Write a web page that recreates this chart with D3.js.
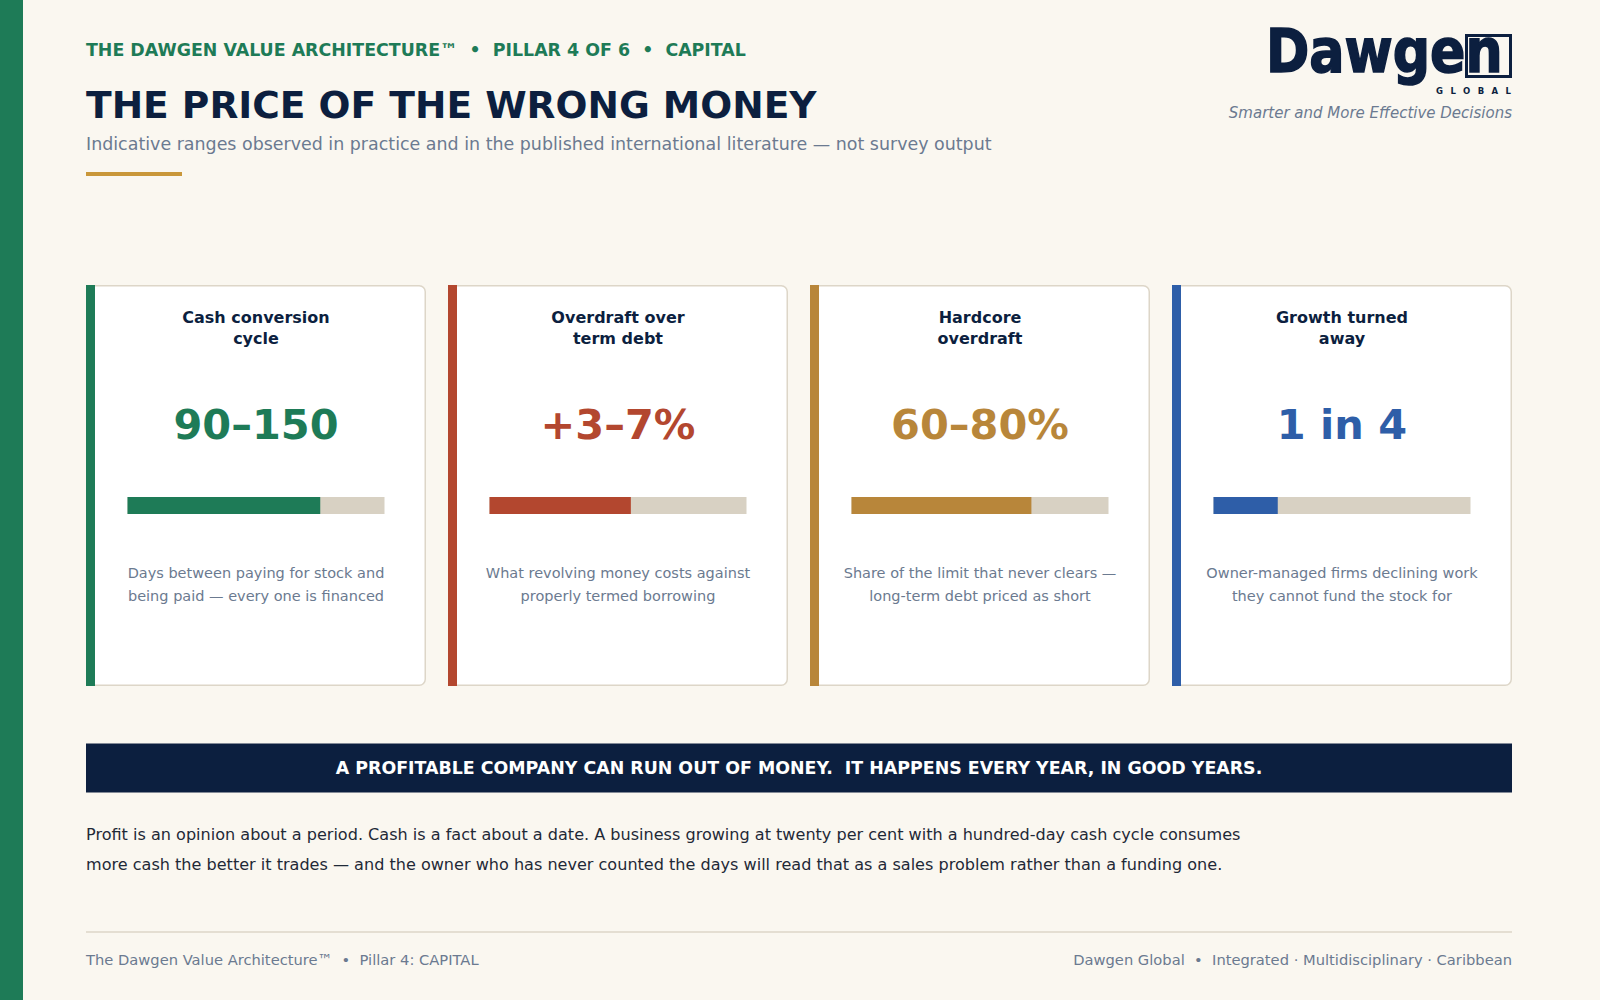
<!DOCTYPE html>
<html>
<head>
<meta charset="utf-8">
<script src="https://cdn.jsdelivr.net/npm/d3@7"></script>
<style>
  html, body { margin: 0; padding: 0; background: #faf7f0; }
  svg text { font-family: "DejaVu Sans", sans-serif; white-space: pre; }
</style>
</head>
<body>
<div id="chart"></div>
<script>
// card data
const cardTitles = [
    ["Cash conversion", "cycle"],
    ["Overdraft over", "term debt"],
    ["Hardcore", "overdraft"],
    ["Growth turned", "away"]
];
const cardFigures = ["90–150", "+3–7%", "60–80%", "1 in 4"];
const cardShares = [0.75, 0.55, 0.70, 0.25];
const cardNotes = [
    ["Days between paying for stock and", "being paid — every one is financed"],
    ["What revolving money costs against", "properly termed borrowing"],
    ["Share of the limit that never clears —", "long-term debt priced as short"],
    ["Owner-managed firms declining work", "they cannot fund the stock for"]
];

// page text
const kicker = "THE DAWGEN VALUE ARCHITECTURE™  •  PILLAR 4 OF 6  •  CAPITAL";
const title = "THE PRICE OF THE WRONG MONEY";
const subtitle = "Indicative ranges observed in practice and in the published international literature — not survey output";
const banner = "A PROFITABLE COMPANY CAN RUN OUT OF MONEY.  IT HAPPENS EVERY YEAR, IN GOOD YEARS.";
const bodyLines = [
    "Profit is an opinion about a period. Cash is a fact about a date. A business growing at twenty per cent with a hundred-day cash cycle consumes",
    "more cash the better it trades — and the owner who has never counted the days will read that as a sales problem rather than a funding one."
];
const footerLeft = "The Dawgen Value Architecture™  •  Pillar 4: CAPITAL";
const footerRight = "Dawgen Global  •  Integrated · Multidisciplinary · Caribbean";

// colours
const accents = ["#1e7b57", "#b3472f", "#b8863a", "#2e5ea8"];
const navy = "#0c1f3f";
const grey = "#6b7a90";
const track = "#d8d1c3";
const rule = "#ddd6c8";

const W = 1600, H = 1000;
const left = 86, right = 1512;

let svg = d3.select("#chart").append("svg")
    .attr("width", W)
    .attr("height", H);

svg.append("rect").attr("width", W).attr("height", H).attr("fill", "#faf7f0");
svg.append("rect").attr("width", 23).attr("height", H).attr("fill", accents[0]);

// header
svg.append("text")
    .attr("x", left).attr("y", 56)
    .attr("fill", accents[0])
    .style("font-size", "17.4px").style("font-weight", "bold")
    .text(kicker);

svg.append("text")
    .attr("x", left).attr("y", 117.5)
    .attr("fill", navy)
    .style("font-size", "37.6px").style("font-weight", "bold")
    .text(title);

svg.append("text")
    .attr("x", left).attr("y", 149.5)
    .attr("fill", grey)
    .style("font-size", "17.45px")
    .text(subtitle);

svg.append("rect")
    .attr("x", left).attr("y", 172)
    .attr("width", 96).attr("height", 4)
    .attr("fill", "#c9973a");

// logo: wordmark with the boxed n
let logo = svg.append("g");
logo.append("rect")
    .attr("x", 1466.5).attr("y", 35.5)
    .attr("width", 44).attr("height", 41)
    .attr("fill", "none").attr("stroke", navy).attr("stroke-width", 3);
logo.append("text")
    .attr("transform", "translate(1266,72) scale(0.87,1)")
    .attr("fill", navy)
    .attr("stroke", navy).attr("stroke-width", 1.6)
    .style("font-size", "60px").style("font-weight", "bold")
    .text("Dawgen");
logo.append("text")
    .attr("x", 1436).attr("y", 94)
    .attr("textLength", 75).attr("lengthAdjust", "spacing")
    .attr("fill", navy)
    .style("font-size", "8.5px").style("font-weight", "bold")
    .text("GLOBAL");
svg.append("text")
    .attr("x", right).attr("y", 117.5)
    .attr("text-anchor", "end")
    .attr("fill", grey)
    .style("font-size", "15px").style("font-style", "italic")
    .text("Smarter and More Effective Decisions");

// cards
let cardTop = 285, cardH = 401;
let x = d3.scaleBand()
    .domain(d3.range(cardFigures.length))
    .range([left, right])
    .paddingInner(22 / 362)
    .paddingOuter(0);

let barW = 257;
let share = d3.scaleLinear().domain([0, 1]).range([0, barW]);

let cards = svg.selectAll(".card")
    .data(cardFigures)
    .enter()
    .append("g")
    .attr("class", "card")
    .attr("transform", function(d, i){
        return "translate(" + x(i) + "," + cardTop + ")";
    });

cards.append("rect")
    .attr("x", 0.75).attr("y", 0.75)
    .attr("width", x.bandwidth() - 1.5).attr("height", cardH - 1.5)
    .attr("rx", 6)
    .attr("fill", "#ffffff")
    .attr("stroke", rule).attr("stroke-width", 1.5);

cards.append("rect")
    .attr("width", 9).attr("height", cardH)
    .attr("fill", function(d, i){ return accents[i]; });

let cx = x.bandwidth() / 2;

cards.each(function(d, i){
    let g = d3.select(this);
    cardTitles[i].forEach(function(line, j){
        g.append("text")
            .attr("x", cx).attr("y", 37.5 + j * 21)
            .attr("text-anchor", "middle")
            .attr("fill", navy)
            .style("font-size", "16px").style("font-weight", "bold")
            .text(line);
    });
    cardNotes[i].forEach(function(line, j){
        g.append("text")
            .attr("x", cx).attr("y", 293 + j * 22.5)
            .attr("text-anchor", "middle")
            .attr("fill", grey)
            .style("font-size", "14.5px")
            .text(line);
    });
});

cards.append("text")
    .attr("x", cx).attr("y", 153.5)
    .attr("text-anchor", "middle")
    .attr("fill", function(d, i){ return accents[i]; })
    .style("font-size", "41.5px").style("font-weight", "bold")
    .text(function(d){ return d; });

let barX = cx - barW / 2;
cards.append("rect")
    .attr("x", barX).attr("y", 212)
    .attr("width", share(1)).attr("height", 17)
    .attr("fill", track);
cards.append("rect")
    .attr("x", barX).attr("y", 212)
    .attr("width", function(d, i){ return share(cardShares[i]); })
    .attr("height", 17)
    .attr("fill", function(d, i){ return accents[i]; });

// banner
svg.append("rect")
    .attr("x", left).attr("y", 743.5)
    .attr("width", right - left).attr("height", 49)
    .attr("fill", navy);
svg.append("text")
    .attr("x", (left + right) / 2).attr("y", 773.5)
    .attr("text-anchor", "middle")
    .attr("fill", "#ffffff")
    .style("font-size", "17.4px").style("font-weight", "bold")
    .text(banner);

// body
svg.selectAll(".body-line")
    .data(bodyLines)
    .enter()
    .append("text")
    .attr("class", "body-line")
    .attr("x", left)
    .attr("y", function(d, i){ return 840 + i * 29.5; })
    .attr("fill", "#1f2937")
    .style("font-size", "16.07px")
    .text(function(d){ return d; });

// footer
svg.append("line")
    .attr("x1", left).attr("x2", right)
    .attr("y1", 932).attr("y2", 932)
    .attr("stroke", rule).attr("stroke-width", 1.5);
svg.append("text")
    .attr("x", left).attr("y", 965)
    .attr("fill", grey)
    .style("font-size", "14.7px")
    .text(footerLeft);
svg.append("text")
    .attr("x", right).attr("y", 965)
    .attr("text-anchor", "end")
    .attr("fill", grey)
    .style("font-size", "14.7px")
    .text(footerRight);
</script>
</body>
</html>
